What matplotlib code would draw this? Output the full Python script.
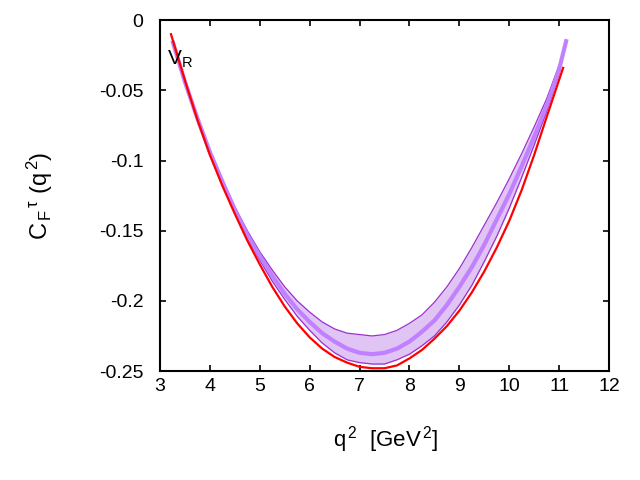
import matplotlib
matplotlib.use("Agg")
import matplotlib.pyplot as plt

plt.rcParams['font.family'] = ['Liberation Sans', 'DejaVu Sans']
plt.rcParams['mathtext.fontset'] = 'custom'
plt.rcParams['mathtext.rm'] = 'Liberation Sans'
plt.rcParams['mathtext.it'] = 'Liberation Sans:italic'

# red curve
q2_red = [3.22, 3.5, 3.75, 4.0, 4.25, 4.5, 4.75, 5.0, 5.25, 5.5, 5.75, 6.0, 6.25, 6.5, 6.75, 7.0,
          7.25, 7.5, 7.75, 8.0, 8.25, 8.5, 8.75, 9.0, 9.25, 9.5, 9.75, 10.0, 10.25, 10.5, 10.75, 11.08]
c_red = [-0.010, -0.043, -0.071, -0.096, -0.118, -0.138, -0.157, -0.174, -0.190, -0.204, -0.216,
         -0.226, -0.234, -0.240, -0.244, -0.247, -0.248, -0.248, -0.246, -0.241, -0.235, -0.227,
         -0.218, -0.207, -0.194, -0.179, -0.162, -0.143, -0.121, -0.096, -0.069, -0.034]

# purple band: central line, upper and lower edges
q2_band = [3.26, 3.5, 3.75, 4.0, 4.25, 4.5, 4.75, 5.0, 5.25, 5.5, 5.75, 6.0, 6.25, 6.5, 6.75, 7.0,
           7.25, 7.5, 7.75, 8.0, 8.25, 8.5, 8.75, 9.0, 9.25, 9.5, 9.75, 10.0, 10.25, 10.5, 10.75,
           11.0, 11.14]
c_mid = [-0.016, -0.044, -0.070, -0.094, -0.115, -0.135, -0.153, -0.168, -0.182, -0.195, -0.206,
         -0.215, -0.223, -0.229, -0.234, -0.237, -0.238, -0.237, -0.234, -0.229, -0.222, -0.214,
         -0.203, -0.190, -0.176, -0.160, -0.142, -0.124, -0.104, -0.083, -0.061, -0.035, -0.015]
c_up = [-0.016, -0.044, -0.069, -0.093, -0.114, -0.133, -0.150, -0.165, -0.178, -0.190, -0.200,
        -0.208, -0.215, -0.220, -0.223, -0.224, -0.225, -0.224, -0.221, -0.216, -0.210, -0.201,
        -0.190, -0.177, -0.162, -0.146, -0.130, -0.113, -0.095, -0.076, -0.056, -0.032, -0.015]
c_lo = [-0.016, -0.044, -0.071, -0.095, -0.116, -0.137, -0.155, -0.171, -0.186, -0.199, -0.211,
        -0.221, -0.230, -0.237, -0.242, -0.244, -0.245, -0.245, -0.242, -0.238, -0.232, -0.225,
        -0.215, -0.203, -0.189, -0.172, -0.154, -0.134, -0.112, -0.089, -0.065, -0.038, -0.015]

fig = plt.figure(figsize=(6.4, 4.8), dpi=100)
ax = fig.add_axes([0.25, 0.227, 0.7016, 0.731])

ax.fill_between(q2_band, c_lo, c_up, color='#e0c4f4', lw=0)
ax.plot(q2_band, c_up, color='#9a30d0', lw=0.9)
ax.plot(q2_band, c_lo, color='#9a30d0', lw=0.9)
ax.plot(q2_band, c_mid, color='#c080ff', lw=3)
ax.plot(q2_red, c_red, color='#ff0000', lw=1.6)

ax.text(3.15, -0.028, r'$\mathregular{V_R}$', fontsize=15, va='center', ha='left')

ax.set_xlim(3, 12)
ax.set_ylim(-0.25, 0)
ax.set_xticks(range(3, 13))
ax.set_yticks([-0.25, -0.2, -0.15, -0.1, -0.05, 0])
ax.set_yticklabels(['-0.25', '-0.2', '-0.15', '-0.1', '-0.05', '0'])
ax.tick_params(direction='in', length=4, width=1.2, labelsize=14, top=True, right=True)
ax.tick_params(axis='y', pad=12)
ax.tick_params(axis='x', pad=5)
for s in ax.spines.values():
    s.set_linewidth(1.5)

fig.text(386 / 640, 1 - 440 / 480, r'q$^{\,2}$  [GeV$^{\,2}$]', fontsize=16, ha='center', va='center')
fig.text(40 / 640, 1 - 196 / 480, r'C$_{\,\mathregular{F}}$$^{\,\mathrm{\tau}}$ (q$^{\,2}$)', fontsize=17,
         ha='center', va='center', rotation=90)

fig.savefig('out.png', dpi=100)
